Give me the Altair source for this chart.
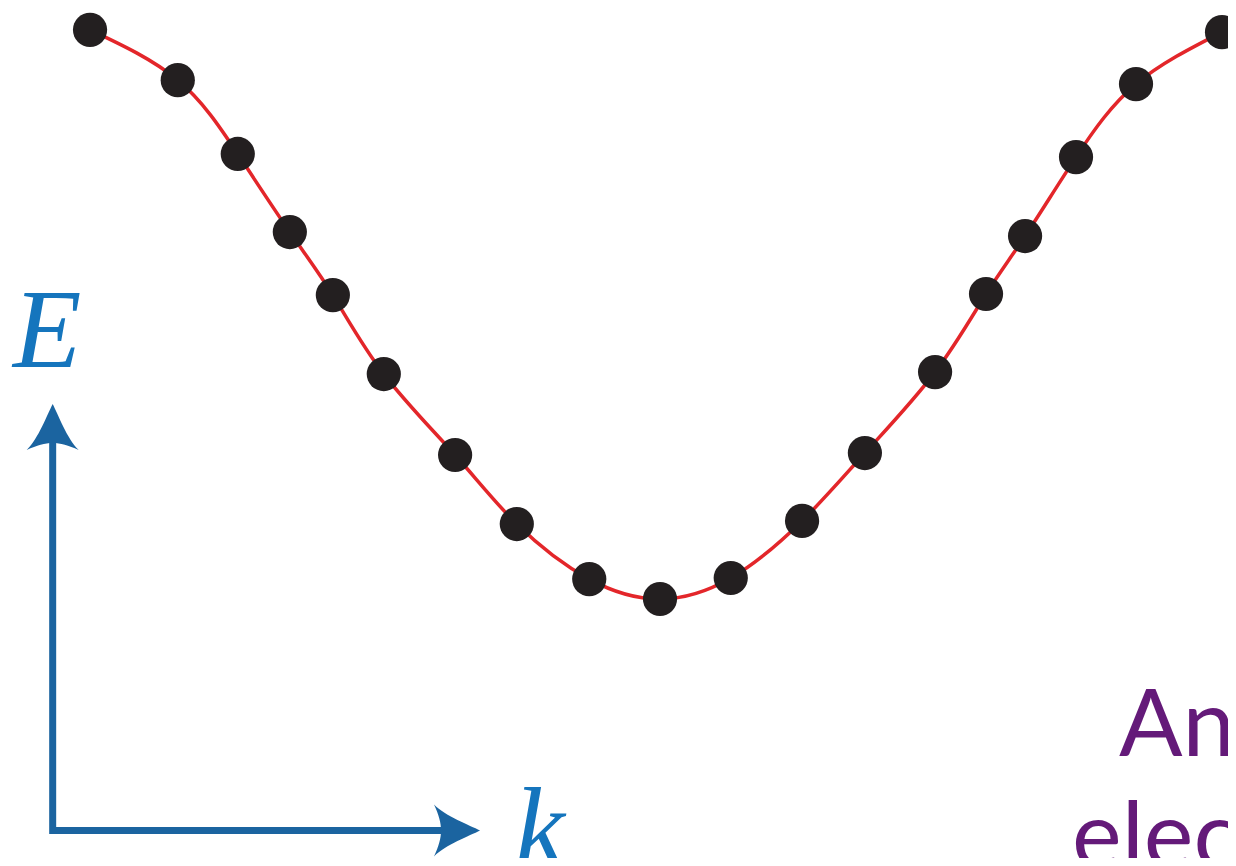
import altair as alt
import pandas as pd

# ---- data (k in units of pi/a, E in units of 2t) ----
k_vals = [-1.007, -0.852, -0.746, -0.654, -0.578, -0.488, -0.362, -0.253, -0.125, 0.0,
          0.125, 0.251, 0.362, 0.486, 0.576, 0.645, 0.735, 0.841, 0.993]
E_vals = [1.004, 0.827, 0.567, 0.292, 0.070, -0.208, -0.493, -0.736, -0.930, -1.0,
          -0.926, -0.725, -0.486, -0.201, 0.074, 0.278, 0.556, 0.813, 0.996]

# axis arrows (in the same k / E units)
axis_origin_k = -1.073
axis_origin_E = -1.815
E_arrow_tip = -0.313
k_arrow_tip = -0.318

# labels
axis_labels = ["E", "k"]
axis_label_k = [-1.143, -0.256]
axis_label_E = [-0.183, -1.937]

caption_lines = ["An", "elect"]
caption_k = [0.811, 0.728]
caption_E = [-1.553, -1.947]

# ---- geometry of the scales ----
W, H = 1220, 850
PX_K, PX_E = 566.0, 284.0          # pixels per unit
K0_PX, E0_PX = 660.0, 315.0        # page position of k=0, E=0
x_dom = [(8 - K0_PX) / PX_K, (8 + W - K0_PX) / PX_K]
y_dom = [(E0_PX - (8 + H)) / PX_E, (E0_PX - 8) / PX_E]

xs = alt.Scale(domain=x_dom, nice=False, zero=False)
ys = alt.Scale(domain=y_dom, nice=False, zero=False)

band = pd.DataFrame({"k": k_vals, "E": E_vals})

head_half = 23.0  # arrowhead half length in px
vhead_E = E_arrow_tip - head_half / PX_E
hhead_k = k_arrow_tip - head_half / PX_K

axes_line = pd.DataFrame({
    "k": [axis_origin_k, axis_origin_k, hhead_k],
    "E": [vhead_E, axis_origin_E, axis_origin_E],
    "o": [0, 1, 2],
})
heads = pd.DataFrame({
    "k": [axis_origin_k, hhead_k],
    "E": [vhead_E, axis_origin_E],
    "ang": [0, 90],
})
labels = pd.DataFrame({"t": axis_labels, "k": axis_label_k, "E": axis_label_E})
captions = pd.DataFrame({"t": caption_lines, "k": caption_k, "E": caption_E})

X = lambda: alt.X("k:Q", scale=xs, axis=None)
Y = lambda: alt.Y("E:Q", scale=ys, axis=None)

curve = alt.Chart(band).mark_line(
    color="#e3262a", strokeWidth=3.5, interpolate="natural"
).encode(x=X(), y=Y(), order="k:Q")

dots = alt.Chart(band).mark_circle(
    color="#231f20", opacity=1, size=1170
).encode(x=X(), y=Y())

arrow_color = "#1b64a0"
axes = alt.Chart(axes_line).mark_line(
    color=arrow_color, strokeWidth=7, strokeJoin="miter", strokeCap="butt"
).encode(x=X(), y=Y(), order="o:Q")

head_path = ("M0,-0.885 C0.2,-0.5 0.55,0.45 1,0.885 "
             "C0.6,0.7 0.3,0.615 0,0.615 "
             "C-0.3,0.615 -0.6,0.7 -1,0.885 "
             "C-0.55,0.45 -0.2,-0.5 0,-0.885 Z")
arrowheads = alt.Chart(heads).mark_point(
    shape=head_path, filled=True, color=arrow_color, opacity=1, size=2704, strokeWidth=0
).encode(x=X(), y=Y(), angle=alt.Angle("ang:Q", scale=None))

label_text = alt.Chart(labels).mark_text(
    font="Liberation Serif", fontStyle="italic", fontSize=112,
    color="#1575bd", align="left", baseline="alphabetic"
).encode(x=X(), y=Y(), text="t:N")

caption_text = alt.Chart(captions).mark_text(
    font="Lato", fontSize=94, color="#641a79", align="left", baseline="alphabetic"
).encode(x=X(), y=Y(), text="t:N")

chart = alt.layer(curve, dots, axes, arrowheads, label_text, caption_text).properties(
    width=W, height=H, autosize=alt.AutoSizeParams(type="none"), padding=0,
    background="white"
).configure_view(stroke=None)

chart.save("out.html", embed_options={"renderer": "svg", "actions": False})
